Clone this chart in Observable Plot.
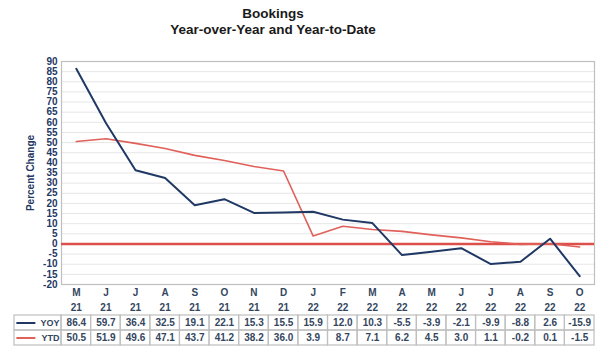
<!DOCTYPE html>
<html>
<head>
<meta charset="utf-8">
<script src="https://cdn.jsdelivr.net/npm/d3@7"></script>
<script src="https://cdn.jsdelivr.net/npm/@observablehq/plot@0.6"></script>
<style>
  html, body { margin: 0; padding: 0; background: #fff; }
  #wrap { position: relative; width: 600px; height: 352px; overflow: hidden; font-family: "Liberation Sans", Arial, sans-serif; }
  #title { position: absolute; left: 0; top: 6px; width: 546px; text-align: center; font-weight: bold; font-size: 13.5px; line-height: 16px; color: #1a1a1a; }
  #chart { position: absolute; left: 0; top: 50px; }
  #table { position: absolute; left: 0; top: 284px; }
  #chart svg, #table svg { background: transparent !important; overflow: visible; }
</style>
</head>
<body>
<div id="wrap">
  <div id="title">Bookings<br>Year-over-Year and Year-to-Date</div>
  <div id="chart"></div>
  <div id="table"></div>
</div>
<script>
const months = ["M","J","J","A","S","O","N","D","J","F","M","A","M","J","J","A","S","O"];
const years  = ["21","21","21","21","21","21","21","21","22","22","22","22","22","22","22","22","22","22"];
const yoy = [86.4,59.7,36.4,32.5,19.1,22.1,15.3,15.5,15.9,12.0,10.3,-5.5,-3.9,-2.1,-9.9,-8.8,2.6,-15.9];
const ytd = [50.5,51.9,49.6,47.1,43.7,41.2,38.2,36.0,3.9,8.7,7.1,6.2,4.5,3.0,1.1,-0.2,0.1,-1.5];
const yTicks = d3.range(-20, 95, 5);
const seriesNames = ["YOY", "YTD"];
const yLabel = "Percent Change";

const navy = "#1f3864";
const red = "#e0605a";
const grid = "#bfbfbf";
const idx = months.map((_, i) => i);

const chart = Plot.plot({
  width: 600,
  height: 244,
  marginTop: 11,
  marginBottom: 10,
  marginLeft: 61,
  marginRight: 6,
  style: { fontFamily: "'Liberation Sans', Arial, sans-serif", fontSize: "10px", fontWeight: "bold", color: navy, background: "transparent" },
  x: { domain: [-0.5, months.length - 0.5], axis: null },
  y: { domain: [-20, 90], ticks: yTicks, tickSize: 0, tickPadding: 4, label: null, tickFormat: d => d < 0 ? "-" + Math.abs(d) : String(d) },
  marks: [
    Plot.ruleY(yTicks, { stroke: "#e6e6e6", strokeWidth: 1 }),
    Plot.frame({ stroke: grid, strokeWidth: 1.2 }),
    Plot.ruleY([0], { stroke: "#dc4f4a", strokeWidth: 2.5 }),
    Plot.line(idx, { x: i => i, y: i => ytd[i], stroke: red, strokeWidth: 1.6 }),
    Plot.line(idx, { x: i => i, y: i => yoy[i], stroke: navy, strokeWidth: 2 }),
    Plot.text([yLabel], { text: d => d, frameAnchor: "left", textAnchor: "middle", rotate: -90, dx: -31, fill: navy, fontSize: 10 })
  ]
});
document.getElementById("chart").appendChild(chart);

const colW = 533 / months.length;
const labelUnits = 47 / colW;
const x0 = -0.5 - labelUnits;
const rows = ["m", "yr", "YOY", "YTD"];
const edges = d3.range(months.length + 1).map(i => i - 0.5);

const vRules = [];
for (const r of ["m", "yr"]) for (const e of edges) vRules.push({ x: e, row: r });
for (const r of seriesNames) for (const e of [x0, ...edges]) vRules.push({ x: e, row: r });

const cells = [];
for (const r of seriesNames) {
  cells.push({ x1: x0, x2: -0.5, row: r });
  for (const i of idx) cells.push({ x1: i - 0.5, x2: i + 0.5, row: r });
}
const vals = [];
for (const i of idx) {
  vals.push({ i, row: "YOY", v: yoy[i] });
  vals.push({ i, row: "YTD", v: ytd[i] });
}

const textColor = "#34465e";
const table = Plot.plot({
  width: 600,
  height: 64,
  marginTop: 0,
  marginBottom: 2,
  marginLeft: 14,
  marginRight: 6,
  style: { fontFamily: "'Liberation Sans', Arial, sans-serif", fontSize: "10px", fontWeight: "bold", background: "transparent" },
  x: { domain: [x0, months.length - 0.5], axis: null },
  y: { type: "band", domain: rows, padding: 0, axis: null },
  marks: [
    Plot.barX(cells, { x1: "x1", x2: "x2", y: "row", fill: "none", stroke: grid, strokeWidth: 1.2, inset: 0 }),
    Plot.ruleX(vRules, { x: "x", y: "row", stroke: grid, strokeWidth: 1.2 }),
    Plot.text(idx, { x: i => i, y: () => "m", text: i => months[i], fill: textColor }),
    Plot.text(idx, { x: i => i, y: () => "yr", text: i => years[i], fill: textColor }),
    Plot.text(vals, { x: "i", y: "row", text: d => d.v.toFixed(1), fill: textColor }),
    Plot.text(seriesNames, { x: -0.5, y: d => d, text: d => d, textAnchor: "end", dx: -2, fill: textColor, fontSize: 9 }),
    Plot.ruleY(seriesNames, { y: d => d, x1: x0 + 0.08, x2: x0 + 0.08 + 19 / colW, stroke: d => d === "YOY" ? navy : red, strokeWidth: 2 })
  ]
});
document.getElementById("table").appendChild(table);
</script>
</body>
</html>
